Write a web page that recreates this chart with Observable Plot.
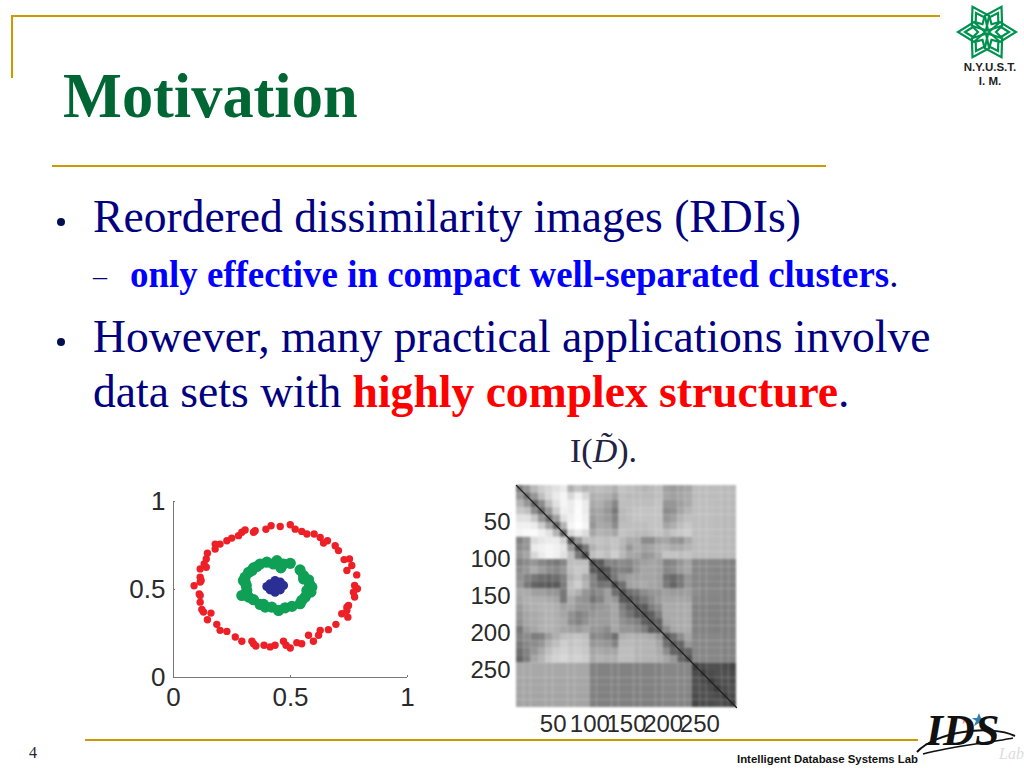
<!DOCTYPE html>
<html>
<head>
<meta charset="utf-8">
<title>Motivation</title>
<script src="https://cdn.jsdelivr.net/npm/d3@7"></script>
<script src="https://cdn.jsdelivr.net/npm/@observablehq/plot@0.6"></script>
<style>
  html, body { margin: 0; padding: 0; background: #fff; overflow: hidden; }
  #slide { position: relative; width: 1024px; height: 768px; overflow: hidden; }
  #slide > * { position: absolute; }
  .t { font-family: "Liberation Serif", serif; white-space: nowrap; color: #000080; line-height: 1; }
  .rule { background: #cc9900; height: 2px; }
  .dot { width: 8px; height: 8px; border-radius: 50%; background: #001050; }
  .sans { font-family: "Liberation Sans", sans-serif; font-weight: bold; color: #111; white-space: nowrap; line-height: 1; }
  b.blue { color: #0000ff; }
  b.red { color: #ff0000; }
</style>
</head>
<body>
<div id="slide">
  <div class="rule" style="left:12px;top:15px;width:928px"></div>
  <div class="rule" style="left:11px;top:15px;width:2px;height:63px"></div>
  <div class="rule" style="left:52px;top:165px;width:774px"></div>
  <div class="rule" style="left:85px;top:739px;width:833px"></div>

  <svg style="left:955px;top:0" width="64" height="62" viewBox="-32 -32 64 62" id="flake"></svg>
  <div class="sans" style="left:947px;top:60px;width:86px;text-align:center;font-size:11.5px;line-height:14px;color:#222">N.Y.U.S.T.<br>I. M.</div>

  <div class="t" id="title" style="left:63px;top:65px;font-size:62.4px;font-weight:bold;color:#006633">Motivation</div>
  <div class="dot" style="left:57px;top:218px"></div>
  <div class="t" id="l1" style="left:93px;top:194px;font-size:45.6px">Reordered dissimilarity images (RDIs)</div>
  <div class="t" style="left:93px;top:262px;font-size:28px">&#8211;</div>
  <div class="t" id="l2" style="left:130px;top:257px;font-size:36.9px"><b class="blue">only effective in compact well-separated clusters</b>.</div>
  <div class="dot" style="left:57px;top:338px"></div>
  <div class="t" id="l3" style="left:93px;top:314px;font-size:45.6px">However, many practical applications involve</div>
  <div class="t" id="l4" style="left:93px;top:369px;font-size:45.6px">data sets with <b class="red">highly complex structure</b>.</div>

  <div class="t" id="formula" style="left:570px;top:434px;font-size:34px;color:#222244">I(<i>D&#771;</i>).</div>

  <div id="scatter" style="left:120px;top:480px"></div>
  <div id="heat" style="left:470px;top:470px"></div>

  <div class="t" style="left:29px;top:745px;font-size:16px;color:#223">4</div>
  <div class="sans" style="left:737px;top:754px;font-size:11.4px">Intelligent Database Systems Lab</div>
  <svg id="idslogo" style="left:915px;top:712px" width="109" height="50" viewBox="0 0 109 50">
    <path d="M2,40 C20,20 75,12 100,24" fill="none" stroke="#111" stroke-width="2"/>
    <path d="M8,42 C35,34 80,30 98,26" fill="none" stroke="#111" stroke-width="1.5"/>
    <path d="M64,1 l2,5 5,0 -4,3 2,5 -5,-3 -5,3 2,-5 -4,-3 5,0 z" fill="#2f7fb5"/>
    <path d="M50,4 l1,3 3,0 -2.5,2 1,3 -2.5,-2 -2.5,2 1,-3 -2.5,-2 3,0 z" fill="#d88a8a"/>
    <path d="M38,6 l1,3 3,0 -2.5,2 1,3 -2.5,-2 -2.5,2 1,-3 -2.5,-2 3,0 z" fill="#dede80"/>
  </svg>
  <div class="t" style="left:926px;top:714px;font-size:44px;line-height:33px;font-style:italic;font-weight:bold;color:#111;letter-spacing:0">IDS</div>
  <div class="t" style="left:999px;top:746px;font-size:16px;font-style:italic;color:#ddd">Lab</div>
</div>

<script>
// Scatter: three nested clusters, [x, y]
const redPoints = [[.499,.868],[.520,.843],[.548,.830],[.570,.815],[.601,.815],[.627,.796],[.641,.764],[.658,.777],[.691,.749],[.705,.721],[.729,.670],[.752,.674],[.741,.608],[.762,.636],[.783,.583],[.774,.523],[.786,.504],[.774,.457],[.748,.409],[.741,.381],[.719,.362],[.745,.343],[.694,.302],[.662,.272],[.627,.268],[.620,.240],[.577,.240],[.598,.206],[.548,.192],[.527,.198],[.499,.168],[.470,.206],[.481,.183],[.434,.183],[.413,.174],[.387,.183],[.352,.179],[.335,.206],[.292,.206],[.264,.230],[.228,.262],[.199,.268],[.185,.302],[.145,.328],[.160,.366],[.121,.387],[.114,.428],[.110,.475],[.088,.521],[.114,.542],[.114,.570],[.114,.617],[.140,.626],[.140,.674],[.145,.706],[.178,.758],[.199,.758],[.228,.777],[.249,.792],[.278,.806],[.292,.825],[.306,.838],[.349,.834],[.395,.842],[.417,.862],[.456,.858],[.178,.730],[.118,.551],[.131,.645],[.114,.466],[.128,.372],[.342,.192],[.342,.825],[.769,.485],[.741,.400]];
const greenPoints = [[.442,.664],[.399,.655],[.499,.649],[.370,.645],[.342,.623],[.541,.611],[.321,.598],[.306,.570],[.299,.551],[.556,.579],[.577,.555],[.591,.513],[.587,.485],[.311,.523],[.313,.494],[.292,.466],[.321,.457],[.342,.442],[.370,.415],[.392,.400],[.420,.400],[.449,.381],[.477,.396],[.506,.404],[.541,.419],[.563,.457],[.470,.645],[.427,.645],[.459,.623],[.385,.415],[.548,.438],[.570,.494],[.581,.532],[.556,.560],[.335,.608],[.356,.630],[.306,.542],[.311,.475]];
const bluePoints = [[.399,.517],[.413,.532],[.434,.551],[.456,.542],[.470,.523],[.456,.498],[.434,.485],[.413,.498],[.434,.517],[.442,.528],[.420,.509]];
const scatterTicks = [0, 0.5, 1];

// Reordered dissimilarity image: gray level per 10x10 block of the 300x300 matrix
const dissimilarity = [
[120,150,185,205,215,225,235,175,195,180,185,190,185,175,195,190,185,180,185,190,160,155,160,165,188,188,188,188,185,185],
[150,110,150,190,215,235,245,215,240,215,175,180,175,160,190,185,185,185,185,190,165,160,165,170,188,188,188,188,185,185],
[180,150,100,140,190,225,245,235,250,235,170,175,160,135,190,190,190,190,190,195,150,150,160,170,190,190,190,188,185,185],
[200,190,140,100,150,205,240,235,252,235,160,165,150,120,185,190,195,195,195,195,140,145,165,180,190,190,190,188,185,185],
[225,225,200,150,105,160,225,240,252,240,155,165,155,130,185,190,195,195,195,195,150,160,180,190,190,190,190,188,185,185],
[240,240,235,205,160,100,180,245,255,245,150,170,165,140,190,190,190,190,195,195,165,175,190,200,190,190,190,188,185,185],
[245,250,250,240,225,180,100,215,235,220,165,180,175,165,195,190,185,185,190,195,185,195,200,205,190,190,190,188,185,185],
[130,150,220,230,235,235,210,80,150,190,190,195,190,195,185,170,170,140,140,160,165,150,145,170,188,188,188,188,185,185],
[140,150,235,240,245,240,230,150,75,120,175,190,185,195,180,150,170,160,165,175,180,170,170,180,188,188,188,188,185,185],
[150,165,215,235,245,240,225,190,120,75,190,200,190,205,185,165,165,150,155,170,195,195,190,195,188,188,188,188,185,185],
[130,140,150,135,125,120,135,190,190,190,75,90,130,130,140,135,150,160,165,160,130,135,150,165,135,135,135,135,130,130],
[140,150,170,155,140,135,150,190,200,195,90,75,90,120,130,125,150,165,165,160,135,140,155,165,135,135,135,133,130,130],
[145,130,120,110,105,110,130,180,195,170,130,90,80,120,150,160,160,165,165,160,115,105,120,150,135,135,135,133,130,130],
[150,120,100,95,90,90,125,190,205,180,130,115,120,70,110,160,165,170,165,160,120,100,120,150,135,133,133,133,130,128],
[170,170,160,160,150,150,120,185,175,150,130,140,160,110,80,110,120,140,150,150,160,155,155,160,140,135,135,135,130,130],
[165,175,175,175,170,165,120,170,150,145,115,130,160,150,90,80,100,120,140,155,165,165,165,165,135,133,133,133,130,130],
[155,170,175,178,178,175,160,165,150,150,140,150,155,165,125,100,80,90,125,140,170,170,170,172,130,130,130,130,128,128],
[150,165,170,175,178,175,165,145,130,140,150,155,155,165,135,115,90,80,95,125,170,170,170,172,130,130,130,130,128,128],
[145,165,170,175,178,175,170,140,130,145,155,155,155,165,145,135,125,95,85,95,165,170,170,172,130,130,130,128,128,128],
[120,155,165,175,178,175,165,160,155,165,150,150,140,165,150,150,140,125,90,85,140,165,170,172,130,130,130,128,128,128],
[130,140,125,130,155,175,190,190,195,190,135,140,130,110,175,180,175,175,170,150,85,110,140,165,135,135,135,135,130,130],
[120,135,140,150,175,190,205,195,200,195,150,155,150,130,185,185,180,180,180,165,110,85,100,150,135,135,135,135,130,130],
[110,130,150,170,190,205,210,200,205,200,165,170,165,165,190,190,180,180,180,170,140,100,85,100,135,135,135,135,130,130],
[100,125,165,180,200,210,215,205,210,205,170,180,175,175,190,190,180,180,180,175,165,150,100,80,135,135,135,135,130,130],
[168,168,168,168,168,168,168,168,168,168,130,130,130,130,130,130,130,130,130,130,135,135,135,135,60,75,80,80,75,70],
[168,168,168,168,168,168,168,168,168,168,130,130,130,130,130,130,130,130,130,130,135,135,135,135,75,60,75,80,80,75],
[166,166,166,166,166,166,166,166,166,166,130,130,130,130,130,130,130,130,130,130,135,135,135,135,80,75,60,75,80,75],
[166,166,166,166,166,166,166,166,166,166,130,130,130,130,130,130,130,130,130,130,135,135,135,135,80,80,75,60,75,80],
[164,164,164,164,164,164,164,164,164,164,128,128,128,128,128,128,128,128,128,128,132,132,132,132,75,80,80,75,60,75],
[164,164,164,164,164,164,164,164,164,164,128,128,128,128,128,128,128,128,128,128,132,132,132,132,70,75,75,80,75,60]
];
const heatTicks = [50, 100, 150, 200, 250];
const heatExtent = 300;
const blockSize = 10;

const labelFont = {fontFamily: '"Liberation Sans", sans-serif', fontSize: 24, fill: "#2a2a2a"};
const scatterFont = {...labelFont, fontSize: 26};

const scatter = Plot.plot({
  width: 310, height: 240,
  marginLeft: 53, marginRight: 23, marginTop: 21, marginBottom: 43,
  style: {background: "transparent", overflow: "visible"},
  x: {domain: [0, 1]}, y: {domain: [0, 1]},
  marks: [
    Plot.ruleX([0], {stroke: "#777", strokeWidth: 1}),
    Plot.ruleY([0], {stroke: "#777", strokeWidth: 1}),
    Plot.axisX({ticks: scatterTicks, tickSize: -2, tickPadding: 12, tickFormat: d => String(d), label: null, stroke: "#777", ...scatterFont}),
    Plot.axisY({ticks: scatterTicks, tickSize: -2, tickPadding: 10, tickFormat: d => String(d), label: null, stroke: "#777", ...scatterFont}),
    Plot.dot(redPoints, {x: d => d[0], y: d => d[1], r: 3.7, fill: "#ed2027", imageFilter: "blur(0.4px)"}),
    Plot.dot(greenPoints, {x: d => d[0], y: d => d[1], r: 5.6, fill: "#0f9f55", imageFilter: "blur(0.4px)"}),
    Plot.dot(bluePoints, {x: d => d[0], y: d => d[1], r: 4.6, fill: "#2b2f94", imageFilter: "blur(0.4px)"})
  ]
});
document.getElementById("scatter").append(scatter);

const blocks = dissimilarity.flatMap((row, r) => row.map((v, c) => ({r, c, v})));
const heat = Plot.plot({
  width: 280, height: 270,
  marginLeft: 46, marginRight: 14, marginTop: 15, marginBottom: 33,
  style: {background: "transparent", overflow: "visible"},
  x: {domain: [0, heatExtent]},
  y: {domain: [0, heatExtent], reverse: true},
  color: {type: "linear", domain: [0, 255], range: ["#000", "#fff"]},
  marks: [
    Plot.rect(blocks, {
      x1: d => d.c * blockSize, x2: d => (d.c + 1) * blockSize,
      y1: d => d.r * blockSize, y2: d => (d.r + 1) * blockSize,
      fill: "v", imageFilter: "blur(1.1px)"
    }),
    Plot.line([[0, 0], [heatExtent, heatExtent]], {x: d => d[0], y: d => d[1], stroke: "#222", strokeWidth: 1.3, imageFilter: "blur(0.5px)"}),
    Plot.axisX({ticks: heatTicks, tickSize: 0, tickPadding: 7, label: null, ...labelFont}),
    Plot.axisY({ticks: heatTicks, tickSize: 0, tickPadding: 6, label: null, ...labelFont})
  ]
});
document.getElementById("heat").append(heat);

// Logo of the university: six outlined rhombi
const flake = document.getElementById("flake");
const ns = "http://www.w3.org/2000/svg";
[30, 90, 150, 210, 270, 330].forEach(a => {
  const g = document.createElementNS(ns, "g");
  g.setAttribute("transform", `rotate(${a})`);
  ["M0,-2 L10,-13 L0,-29 L-10,-13 Z", "M0,-9 L5,-14 L0,-22 L-5,-14 Z"].forEach(p => {
    const e = document.createElementNS(ns, "path");
    e.setAttribute("d", p);
    e.setAttribute("fill", "none");
    e.setAttribute("stroke", "#00914f");
    e.setAttribute("stroke-width", "2.2");
    g.append(e);
  });
  flake.append(g);
});
</script>
</body>
</html>
